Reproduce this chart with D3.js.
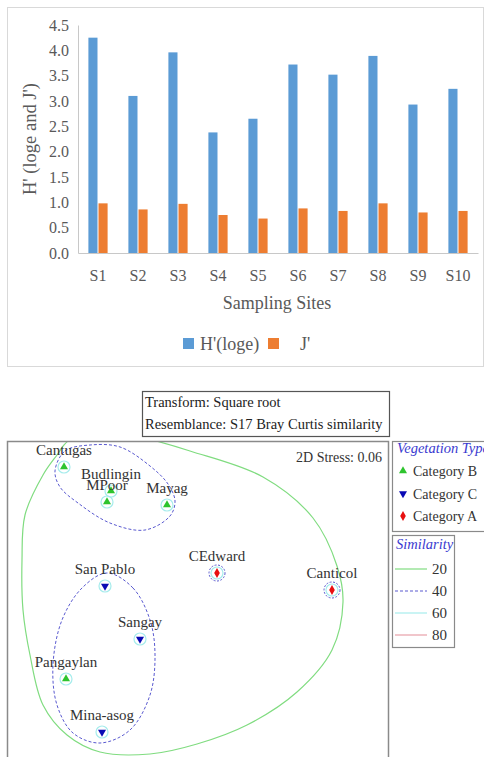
<!DOCTYPE html>
<html>
<head>
<meta charset="utf-8">
<script src="https://cdnjs.cloudflare.com/ajax/libs/d3/7.8.5/d3.min.js"></script>
<style>
    body { margin: 0; background: #fff; }
    svg { display: block; font-family: "Liberation Serif", "DejaVu Serif", serif; }
</style>
</head>
<body>
<svg id="chart" width="484" height="757"></svg>
<script>
// diversity bar chart
let sites = ['S1', 'S2', 'S3', 'S4', 'S5', 'S6', 'S7', 'S8', 'S9', 'S10'];
let seriesNames = ["H'(loge)", "J'"];
let shannonH = [4.25, 3.10, 3.96, 2.38, 2.65, 3.72, 3.52, 3.89, 2.93, 3.24];
let evennessJ = [0.98, 0.86, 0.97, 0.75, 0.68, 0.88, 0.83, 0.98, 0.80, 0.83];
let yTicks = [0, 0.5, 1, 1.5, 2, 2.5, 3, 3.5, 4, 4.5];

// nMDS ordination
let stations = ['Cantugas', 'Budlingin', 'MPoor', 'Mayag', 'CEdward', 'Canticol', 'San Pablo', 'Sangay', 'Pangaylan', 'Mina-asog'];
let mdsX = [-1.34, -0.87, -0.91, -0.31, 0.19, 1.34, -0.93, -0.58, -1.32, -0.96];
let mdsY = [1.32, 1.08, 0.97, 0.94, 0.26, 0.09, 0.13, -0.40, -0.80, -1.33];
let vegType = ['Category B', 'Category B', 'Category B', 'Category B', 'Category A', 'Category A', 'Category C', 'Category C', 'Category B', 'Category C'];
let vegCategories = ['Category B', 'Category C', 'Category A'];
let similarityLevels = [20, 40, 60, 80];
let contour20 = [[-1.30, 1.58], [-0.98, 1.71], [-0.53, 1.61], [-0.08, 1.48], [0.65, 1.22], [1.15, 0.81], [1.39, 0.33], [1.45, -0.03],
    [1.34, -0.51], [0.99, -0.93], [0.49, -1.26], [-0.01, -1.45], [-0.48, -1.55], [-0.98, -1.53], [-1.31, -1.36], [-1.55, -1.06],
    [-1.68, -0.56], [-1.75, -0.11], [-1.76, 0.39], [-1.73, 0.84], [-1.55, 1.24], [-1.41, 1.44]];
let contour40a = [[-1.43, 1.28], [-1.33, 1.48], [-1.08, 1.54], [-0.78, 1.52], [-0.48, 1.33], [-0.30, 1.15], [-0.23, 0.98],
    [-0.28, 0.83], [-0.53, 0.69], [-0.88, 0.76], [-1.20, 0.96], [-1.38, 1.12]];
let contour40b = [[-0.91, 0.26], [-0.65, 0.11], [-0.48, -0.21], [-0.43, -0.56], [-0.48, -0.96], [-0.68, -1.31], [-0.98, -1.44],
    [-1.25, -1.34], [-1.41, -1.06], [-1.45, -0.66], [-1.36, -0.21], [-1.16, 0.11]];

let svg = d3.select('#chart');

function drawBars() {
    let g = svg.append('g');
    let height = 253;

    g.append('rect')
        .attr('x', 7.5).attr('y', 7.5)
        .attr('width', 476).attr('height', 359)
        .attr('fill', 'none')
        .attr('stroke', '#d9d9d9')
        ;

    let x0 = d3.scaleBand()
        .domain(sites)
        .range([78, 478])
        .paddingInner(0.52)
        .paddingOuter(0.26)
        ;
    let x1 = d3.scaleBand()
        .domain(seriesNames)
        .range([0, x0.bandwidth()])
        .paddingInner(0.1)
        ;
    let yscale = d3.scaleLinear()
        .domain([0, 4.5])
        .range([height, 25])
        ;
    let colors = d3.scaleOrdinal().domain(seriesNames).range(['#5b9bd5', '#ed7d31']);

    let rows = sites.map((s, i) => ({ site: s, values: [shannonH[i], evennessJ[i]] }));

    g.selectAll('g.site')
        .data(rows)
        .join('g')
        .attr('class', 'site')
        .attr('transform', d => `translate(${x0(d.site)},0)`)
        .selectAll('rect')
        .data(d => d.values.map((v, k) => ({ key: seriesNames[k], value: v })))
        .join('rect')
        .attr('x', d => x1(d.key))
        .attr('width', x1.bandwidth())
        .attr('y', d => yscale(d.value))
        .attr('height', d => yscale(0) - yscale(d.value))
        .attr('fill', d => colors(d.key))
        ;

    let yaxis = d3.axisLeft(yscale)
        .tickValues(yTicks)
        .tickFormat(d3.format('.1f'))
        .tickSize(0)
        .tickPadding(9)
        ;
    let xaxis = d3.axisBottom(x0)
        .tickSize(0)
        .tickPadding(17)
        ;

    let ya = g.append('g')
        .attr('transform', 'translate(78,0)')
        .call(yaxis);
    let xa = g.append('g')
        .attr('transform', `translate(0,${height})`)
        .call(xaxis);

    [ya, xa].forEach(a => {
        a.select('.domain').attr('stroke', '#c8c8c8');
        a.selectAll('text')
            .attr('fill', '#595959')
            .style('font-size', '16px')
            .style('font-family', '"Liberation Serif", serif');
    });

    g.append('text')
        .attr('x', 277).attr('y', 309)
        .attr('text-anchor', 'middle')
        .attr('fill', '#595959')
        .style('font-size', '18px')
        .text('Sampling Sites');

    g.append('text')
        .attr('transform', 'translate(36,139) rotate(-90)')
        .attr('text-anchor', 'middle')
        .attr('fill', '#595959')
        .style('font-size', '18.5px')
        .text("H' (loge and J')");

    let legendX = [183, 268];
    let legendText = [200, 300];
    seriesNames.forEach((s, i) => {
        g.append('rect')
            .attr('x', legendX[i]).attr('y', 338)
            .attr('width', 11).attr('height', 11)
            .attr('fill', colors(s));
        g.append('text')
            .attr('x', legendText[i]).attr('y', 350)
            .attr('fill', '#595959')
            .style('font-size', '18px')
            .text(s);
    });
}

function drawMds() {
    let g = svg.append('g').style('font-size', '15px');

    let mx = d3.scaleLinear().domain([-1.91, 1.91]).range([7, 389]);
    let my = d3.scaleLinear().domain([-1.58, 1.58]).range([757, 441]);

    // header box
    g.append('rect')
        .attr('x', 142.5).attr('y', 391.5)
        .attr('width', 247).attr('height', 45)
        .attr('fill', 'none').attr('stroke', '#555').attr('stroke-width', 1.2);
    g.append('text').attr('x', 145).attr('y', 407).attr('fill', '#222')
        .style('font-size', '14.5px').text('Transform: Square root');
    g.append('text').attr('x', 145).attr('y', 429).attr('fill', '#222')
        .style('font-size', '14.5px').text('Resemblance: S17 Bray Curtis similarity');

    g.append('clipPath').attr('id', 'plotclip')
        .append('rect').attr('x', 7).attr('y', 441).attr('width', 382).attr('height', 330);

    let plot = g.append('g').attr('clip-path', 'url(#plotclip)');

    let line = d3.line()
        .x(d => mx(d[0]))
        .y(d => my(d[1]))
        .curve(d3.curveCatmullRomClosed.alpha(0.5));

    plot.append('path')
        .attr('d', line(contour20))
        .attr('fill', 'none')
        .attr('stroke', '#80dc80')
        .attr('stroke-width', 1.2);

    [contour40a, contour40b].forEach(c => {
        plot.append('path')
            .attr('d', line(c))
            .attr('fill', 'none')
            .attr('stroke', '#5a5ad0')
            .attr('stroke-width', 1)
            .attr('stroke-dasharray', '3,2');
    });

    let pts = stations.map((s, i) => ({ name: s, x: mdsX[i], y: mdsY[i], type: vegType[i] }));

    plot.selectAll('circle.c60')
        .data(pts)
        .join('circle')
        .attr('class', 'c60')
        .attr('cx', d => mx(d.x)).attr('cy', d => my(d.y))
        .attr('r', 6)
        .attr('fill', 'none')
        .attr('stroke', '#a6ecec')
        .attr('stroke-width', 1.2);

    plot.selectAll('circle.c40')
        .data(pts.filter(d => d.type === 'Category A'))
        .join('circle')
        .attr('class', 'c40')
        .attr('cx', d => mx(d.x)).attr('cy', d => my(d.y))
        .attr('r', 8)
        .attr('fill', 'none')
        .attr('stroke', '#5a5ad0')
        .attr('stroke-dasharray', '2,1.5');

    let symType = d3.scaleOrdinal().domain(vegCategories).range([d3.symbolTriangle, d3.symbolTriangle, d3.symbolDiamond]);
    let symRot = d3.scaleOrdinal().domain(vegCategories).range([0, 180, 0]);
    let symFill = d3.scaleOrdinal().domain(vegCategories).range(['#2ec42e', '#0a0ab4', '#e81010']);
    let symbol = d3.symbol().size(28);

    plot.selectAll('path.pt')
        .data(pts)
        .join('path')
        .attr('class', 'pt')
        .attr('d', d => symbol.type(symType(d.type))())
        .attr('transform', d => `translate(${mx(d.x)},${my(d.y)}) rotate(${symRot(d.type)})`)
        .attr('fill', d => symFill(d.type));

    plot.selectAll('text.lab')
        .data(pts)
        .join('text')
        .attr('class', 'lab')
        .attr('x', d => mx(d.x))
        .attr('y', d => my(d.y) - 12)
        .attr('text-anchor', 'middle')
        .attr('fill', '#333')
        .text(d => d.name);

    plot.append('text')
        .attr('x', 382).attr('y', 462)
        .attr('text-anchor', 'end')
        .attr('fill', '#333')
        .style('font-size', '14px')
        .text('2D Stress: 0.06');

    g.append('rect')
        .attr('x', 7.5).attr('y', 441.5)
        .attr('width', 381).attr('height', 330)
        .attr('fill', 'none').attr('stroke', '#8a8a8a').attr('stroke-width', 1.5);

    // vegetation legend
    g.append('rect')
        .attr('x', 392.5).attr('y', 441.5)
        .attr('width', 100).attr('height', 90)
        .attr('fill', 'none').attr('stroke', '#8a8a8a').attr('stroke-width', 1.2);
    g.append('text')
        .attr('x', 397).attr('y', 453)
        .attr('fill', '#3a3ad0')
        .style('font-style', 'italic')
        .style('font-size', '14.5px')
        .text('Vegetation Type');

    vegCategories.forEach((c, i) => {
        let yy = 471 + i * 22.5;
        g.append('path')
            .attr('d', symbol.type(symType(c))())
            .attr('transform', `translate(403,${yy}) rotate(${symRot(c)})`)
            .attr('fill', symFill(c));
        g.append('text')
            .attr('x', 413).attr('y', yy + 5)
            .attr('fill', '#333')
            .style('font-size', '14px')
            .text(c);
    });

    // similarity legend
    g.append('rect')
        .attr('x', 392.5).attr('y', 535.5)
        .attr('width', 62).attr('height', 112)
        .attr('fill', 'none').attr('stroke', '#8a8a8a').attr('stroke-width', 1.2);
    g.append('text')
        .attr('x', 396).attr('y', 549)
        .attr('fill', '#3a3ad0')
        .style('font-style', 'italic')
        .style('font-size', '14.5px')
        .text('Similarity');

    let simStroke = d3.scaleOrdinal().domain(similarityLevels).range(['#80dc80', '#5a5ad0', '#a6ecec', '#e8a0a8']);
    let simDash = d3.scaleOrdinal().domain(similarityLevels).range(['none', '3,2', 'none', 'none']);
    similarityLevels.forEach((s, i) => {
        let yy = 569 + i * 22;
        g.append('line')
            .attr('x1', 395).attr('x2', 427)
            .attr('y1', yy).attr('y2', yy)
            .attr('stroke', simStroke(s))
            .attr('stroke-width', 1.2)
            .attr('stroke-dasharray', simDash(s));
        g.append('text')
            .attr('x', 432).attr('y', yy + 5)
            .attr('fill', '#333')
            .text(s);
    });
}

drawBars();
drawMds();
</script>
</body>
</html>
